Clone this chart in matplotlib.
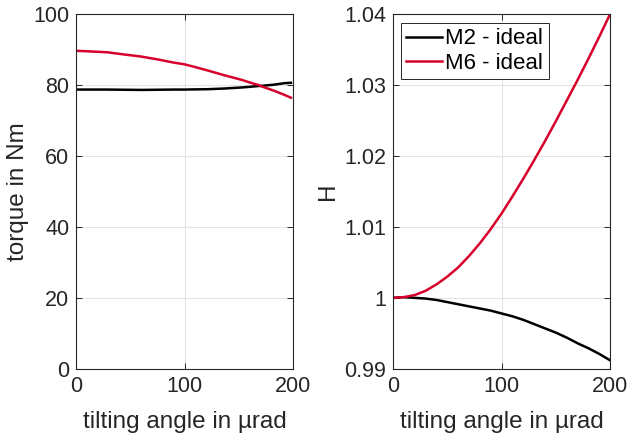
import numpy as np
import matplotlib
matplotlib.use("Agg")
import matplotlib.pyplot as plt

plt.rcParams['font.family'] = ['Liberation Sans', 'DejaVu Sans']
plt.rcParams['font.size'] = 15.5

# torque vs tilting angle (left panel)
angle_torque = [2, 23, 29, 44, 60, 75, 90, 100, 109, 121, 137, 153, 161, 168, 171, 183, 192, 198]
torque_m2 = [78.7, 78.7, 78.7, 78.65, 78.6, 78.65, 78.7, 78.7, 78.75, 78.8, 79.0, 79.3, 79.5, 79.7, 79.75, 80.1, 80.5, 80.6]
torque_m6 = [89.6, 89.3, 89.2, 88.6, 88.0, 87.2, 86.3, 85.8, 85.1, 84.1, 82.7, 81.4, 80.6, 80.0, 79.6, 78.3, 77.2, 76.4]

# H vs tilting angle (right panel)
angle_h = [0, 10, 20, 30, 40, 50, 60, 70, 80, 90, 100, 110, 120, 130, 140, 150, 160, 170, 180, 190, 200]
h_m2 = [1.0, 1.0001, 1.0, 0.9999, 0.9997, 0.9994, 0.9991, 0.9988, 0.9985, 0.9982, 0.9978,
        0.9974, 0.9969, 0.9963, 0.9957, 0.9951, 0.9944, 0.9936, 0.9929, 0.9921, 0.9912]
h_m6 = [1.0, 1.0001, 1.0004, 1.0010, 1.0019, 1.0030, 1.0043, 1.0059, 1.0077, 1.0097, 1.0119,
        1.0143, 1.0168, 1.0194, 1.0221, 1.0249, 1.0278, 1.0307, 1.0337, 1.0368, 1.0400]

red = '#d7002c'
grid_col = '#e3e3e3'
ink = '#262626'

fig = plt.figure(figsize=(6.29, 4.37), dpi=100)
ax1 = fig.add_axes([0.121, 0.156, 0.345, 0.812])
ax2 = fig.add_axes([0.625, 0.156, 0.345, 0.812])

ax1.plot(angle_torque, torque_m2, color='black', lw=1.8, label='M2 - ideal')
ax1.plot(angle_torque, torque_m6, color=red, lw=1.8, label='M6 - ideal')
ax1.set_xlim(0, 200)
ax1.set_ylim(0, 100)
ax1.set_xticks([0, 100, 200])
ax1.set_yticks([0, 20, 40, 60, 80, 100])
ax1.set_xlabel('tilting angle in µrad', fontsize=17.5, labelpad=10)
ax1.set_ylabel('torque in Nm', fontsize=17.5, labelpad=3)

ax2.plot(angle_h, h_m2, color='black', lw=1.8, label='M2 - ideal')
ax2.plot(angle_h, h_m6, color=red, lw=1.8, label='M6 - ideal')
ax2.set_xlim(0, 200)
ax2.set_ylim(0.99, 1.04)
ax2.set_xticks([0, 100, 200])
ax2.set_yticks([0.99, 1.0, 1.01, 1.02, 1.03, 1.04])
ax2.set_yticklabels(['0.99', '1', '1.01', '1.02', '1.03', '1.04'])
ax2.set_xlabel('tilting angle in µrad', fontsize=17.5, labelpad=10)
ax2.set_ylabel('H', fontsize=17.5, labelpad=4)
leg = ax2.legend(loc='upper left', frameon=True, fancybox=False, fontsize=16,
                 handlelength=1.6, borderpad=0.25, labelspacing=0.15, handletextpad=0.15,
                 borderaxespad=0, bbox_to_anchor=(0.035, 0.975))
leg.get_frame().set_edgecolor(ink)
leg.get_frame().set_linewidth(0.7)
leg.get_frame().set_alpha(1)

for ax in (ax1, ax2):
    ax.grid(True, color=grid_col, lw=0.8)
    ax.set_axisbelow(True)
    ax.tick_params(direction='in', top=True, right=True, length=4, width=0.7,
                   colors=ink, labelcolor=ink, pad=5)
    for s in ax.spines.values():
        s.set_color(ink)
        s.set_linewidth(0.8)
    ax.xaxis.label.set_color(ink)
    ax.yaxis.label.set_color(ink)

fig.savefig('out.png', dpi=100)
